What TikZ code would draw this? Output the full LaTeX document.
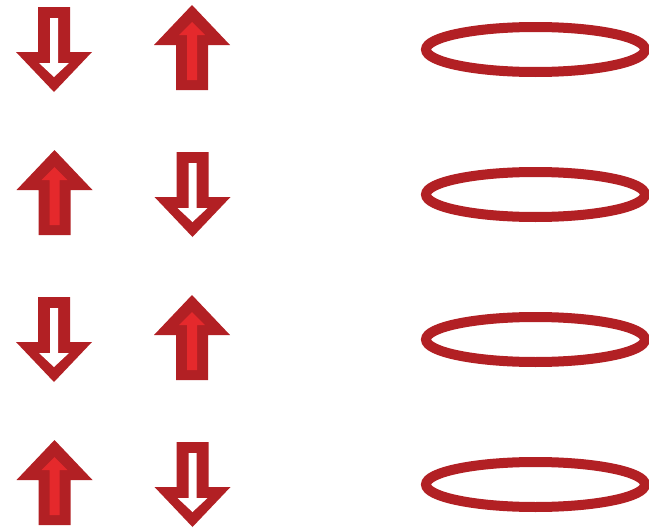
\documentclass[tikz,border=0pt]{standalone}
\definecolor{darkred}{HTML}{B22024}
\definecolor{brightred}{HTML}{E5292C}
\tikzset{
  ringstyle/.style={draw=darkred, line width=10pt},
  pics/downarr/.style={code={
    \fill[darkred] (-16,7) -- (16,7) -- (16,52) -- (38,52) -- (0,92) -- (-38,52) -- (-16,52) -- cycle;
    \fill[white] (-4,18) -- (4,18) -- (4,63) -- (15,63) -- (0,77) -- (-15,63) -- (-4,63) -- cycle;
  }},
  pics/uparr/.style={code={
    \fill[darkred] (0,5) -- (38,45) -- (16,45) -- (16,90) -- (-16,90) -- (-16,45) -- (-38,45) -- cycle;
    \fill[brightred] (0,22) -- (13,35) -- (5,35) -- (5,80) -- (-5,80) -- (-5,35) -- (-13,35) -- cycle;
  }}
}
\begin{document}
\begin{tikzpicture}[x=1pt,y=-1pt]
\useasboundingbox (0,0) rectangle (649,530);
\foreach \k in {0,1,2,3}{
  \pgfmathsetmacro{\dy}{145*\k}
  \ifodd\k
    \pic (l\k) at (54.5,\dy) {uparr};
    \pic (r\k) at (192.5,\dy) {downarr};
  \else
    \pic (l\k) at (54,\dy) {downarr};
    \pic (r\k) at (192,\dy) {uparr};
  \fi
  \draw[ringstyle] (535.5,{49.5+\dy}) ellipse [x radius=109.5, y radius=22.5];
}
\end{tikzpicture}
\end{document}
